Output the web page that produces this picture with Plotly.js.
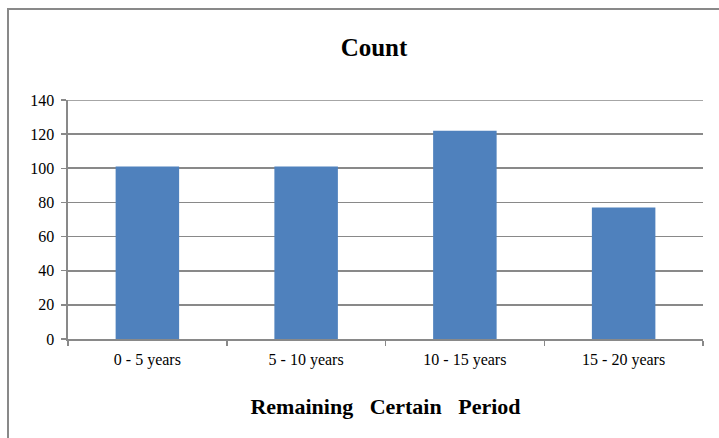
<!DOCTYPE html>
<html>
<head>
<meta charset="utf-8">
<script src="https://cdn.plot.ly/plotly-3.0.1.min.js"></script>
<style>
html,body{margin:0;padding:0;background:#fff;overflow:hidden;}
#chart{width:719px;height:438px;}
</style>
</head>
<body>
<div id="chart"></div>
<script>
var categories = ["0 - 5 years", "5 - 10 years", "10 - 15 years", "15 - 20 years"];
var counts = [101, 101, 122, 77];
var yTicks = [0, 20, 40, 60, 80, 100, 120, 140];

var serif = "Liberation Serif";
var W = 719, H = 438;
var margin = {l: 68, r: 16, t: 100, b: 99};
var pw = W - margin.l - margin.r, ph = H - margin.t - margin.b;
function px2x(p){ return (p - margin.l) / pw; }
function py2y(p){ return (H - margin.b - p) / ph; }

var trace = {
  type: 'bar',
  x: categories,
  y: counts,
  marker: {color: '#4F81BD'},
  hoverinfo: 'x+y'
};

var yMax = yTicks[yTicks.length - 1];

var layout = {
  width: W, height: H,
  margin: margin,
  paper_bgcolor: '#fff',
  plot_bgcolor: '#fff',
  showlegend: false,
  bargap: 0.6,
  font: {family: serif, size: 16, color: '#000'},
  title: {
    text: '<b>Count</b>',
    font: {family: serif, size: 25, color: '#000'},
    x: px2x(374), xanchor: 'center', xref: 'paper',
    y: 1 - 47 / H, yanchor: 'middle', yref: 'container'
  },
  xaxis: {
    type: 'category',
    showgrid: false,
    showline: true, linecolor: '#898989', linewidth: 1.5,
    ticks: 'outside', tickson: 'boundaries', ticklen: 5, tickcolor: '#898989', tickwidth: 1.5,
    ticklabelstandoff: 5,
    tickfont: {family: serif, size: 16, color: '#000'},
    title: {
      text: '<b>Remaining&nbsp;&nbsp; Certain&nbsp;&nbsp; Period</b>',
      font: {family: serif, size: 22, color: '#000'},
      standoff: 31
    },
    zeroline: false, fixedrange: true
  },
  yaxis: {
    range: [0, yMax],
    tickvals: yTicks,
    showgrid: true, gridcolor: '#898989', gridwidth: 1.6,
    showline: true, linecolor: '#898989', linewidth: 1.6,
    ticks: 'outside', ticklen: 5, tickcolor: '#898989', tickwidth: 1.5,
    ticklabelstandoff: 4,
    tickfont: {family: serif, size: 16, color: '#000'},
    zeroline: false, fixedrange: true
  },
  shapes: [{
    type: 'path', xref: 'paper', yref: 'paper',
    path: 'M ' + px2x(8) + ' ' + py2y(445) + ' L ' + px2x(8) + ' ' + py2y(9) + ' L ' + px2x(730) + ' ' + py2y(9),
    line: {color: '#898989', width: 2}
  }, {
    type: 'line', xref: 'paper', yref: 'y',
    x0: 0, x1: 1, y0: yMax, y1: yMax,
    line: {color: '#898989', width: 1.6}
  }]
};

Plotly.newPlot('chart', [trace], layout, {displayModeBar: false, staticPlot: true});
</script>
</body>
</html>
